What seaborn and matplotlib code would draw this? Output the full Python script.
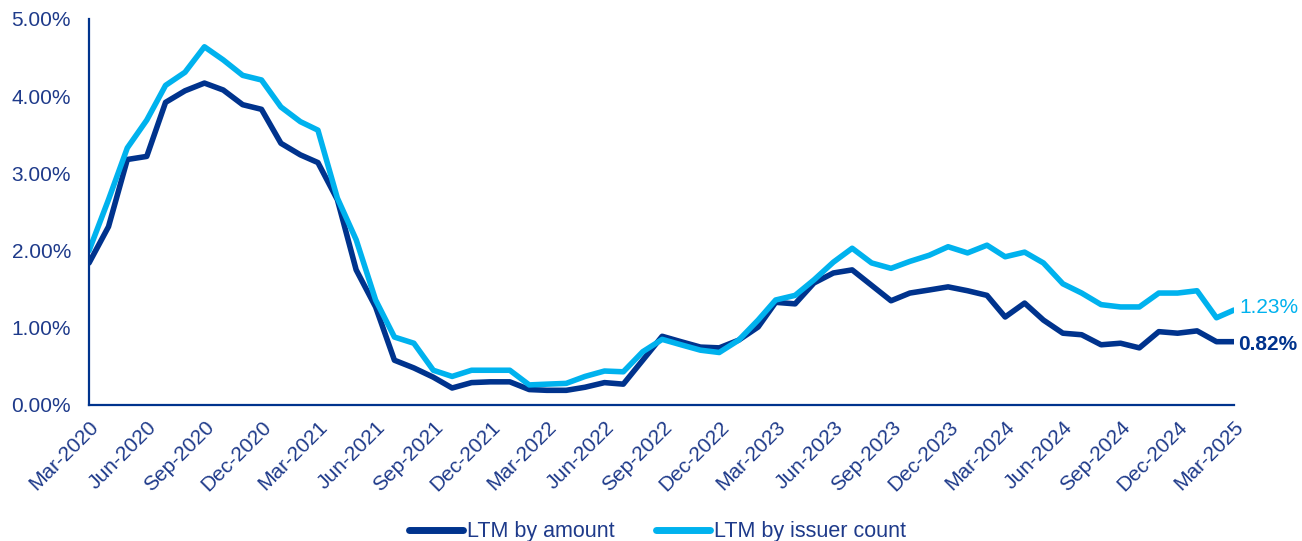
import numpy as np
import pandas as pd
import matplotlib
matplotlib.use("Agg")
import matplotlib.pyplot as plt
import seaborn as sns

# Monthly LTM default rates (%), Mar-2020 .. Mar-2025
months = pd.date_range("2020-03-01", "2025-03-01", freq="MS")

ltm_by_amount = [
    1.84, 2.31, 3.18, 3.22, 3.92, 4.07, 4.17, 4.08, 3.89, 3.83,
    3.39, 3.24, 3.14, 2.66, 1.75, 1.27, 0.58, 0.48, 0.36, 0.22,
    0.29, 0.30, 0.30, 0.20, 0.19, 0.19, 0.23, 0.29, 0.27, 0.58,
    0.89, 0.82, 0.75, 0.74, 0.84, 1.01, 1.33, 1.31, 1.58, 1.71,
    1.75, 1.55, 1.35, 1.45, 1.49, 1.53, 1.48, 1.42, 1.14, 1.32,
    1.10, 0.93, 0.91, 0.78, 0.80, 0.74, 0.95, 0.93, 0.96, 0.82,
    0.82,
]

ltm_by_issuer_count = [
    2.00, 2.66, 3.33, 3.69, 4.14, 4.31, 4.64, 4.47, 4.27, 4.21,
    3.86, 3.67, 3.56, 2.68, 2.14, 1.36, 0.88, 0.80, 0.45, 0.37,
    0.45, 0.45, 0.45, 0.26, 0.27, 0.28, 0.37, 0.44, 0.43, 0.69,
    0.85, 0.78, 0.71, 0.68, 0.84, 1.10, 1.36, 1.42, 1.62, 1.85,
    2.03, 1.84, 1.77, 1.86, 1.94, 2.05, 1.97, 2.07, 1.92, 1.98,
    1.84, 1.57, 1.45, 1.30, 1.27, 1.27, 1.45, 1.45, 1.48, 1.13,
    1.23,
]

series_names = ["LTM by amount", "LTM by issuer count"]
y_ticks = [0, 1, 2, 3, 4, 5]

NAVY = "#00338D"
SKY = "#00B2EE"
TEXT = "#1E3A8A"

sns.set_theme(style="white")
plt.rcParams["font.family"] = ["Liberation Sans", "DejaVu Sans"]

df = pd.concat([
    pd.DataFrame({"date": months, "rate": ltm_by_amount, "series": series_names[0]}),
    pd.DataFrame({"date": months, "rate": ltm_by_issuer_count, "series": series_names[1]}),
])

fig = plt.figure(figsize=(13.02, 5.41), dpi=100)
ax = fig.add_axes([0.0684, 0.2514, 0.8794, 0.7135])

sns.lineplot(
    data=df, x="date", y="rate", hue="series",
    palette={series_names[0]: NAVY, series_names[1]: SKY},
    hue_order=series_names, linewidth=4, ax=ax, legend=False,
)
for ln in ax.get_lines():
    ln.set_solid_joinstyle("round")
    ln.set_solid_capstyle("round")

ax.set_xlim(months[0], months[-1])
ax.set_ylim(0, 5)
ax.set_yticks(y_ticks)
ax.set_yticklabels([f"{v:.2f}%" for v in y_ticks])

quarter_ticks = months[::3]
ax.set_xticks(quarter_ticks)
ax.set_xticklabels([d.strftime("%b-%Y") for d in quarter_ticks],
                   rotation=45, ha="right", rotation_mode="anchor")

ax.set_xlabel("")
ax.set_ylabel("")
sns.despine(ax=ax)
for side in ("left", "bottom"):
    ax.spines[side].set_color(NAVY)
    ax.spines[side].set_linewidth(1.6)
ax.tick_params(axis="both", which="major", direction="out", length=6, width=1.4,
               color=NAVY, labelcolor=TEXT, labelsize=15)
ax.tick_params(axis="x", pad=3)
ax.tick_params(axis="y", pad=7)

# End-of-series value labels
ax.annotate(f"{ltm_by_issuer_count[-1]:.2f}%", xy=(months[-1], ltm_by_issuer_count[-1]),
            xytext=(4, 2), textcoords="offset points", va="center", ha="left",
            color=SKY, fontsize=15, annotation_clip=False)
ax.annotate(f"{ltm_by_amount[-1]:.2f}%", xy=(months[-1], ltm_by_amount[-1]),
            xytext=(3, -2), textcoords="offset points", va="center", ha="left",
            color=NAVY, fontsize=15, fontweight="bold", annotation_clip=False)

handles = [plt.Line2D([], [], color=NAVY, lw=5, solid_capstyle="round"),
           plt.Line2D([], [], color=SKY, lw=5, solid_capstyle="round")]
fig.legend(handles, series_names, loc="lower center", bbox_to_anchor=(0.505, -0.038),
           ncol=2, frameon=False, fontsize=15.5, handlelength=2.5, handletextpad=0.2,
           columnspacing=1.9, labelcolor=TEXT)

fig.savefig("out.png", dpi=100)
